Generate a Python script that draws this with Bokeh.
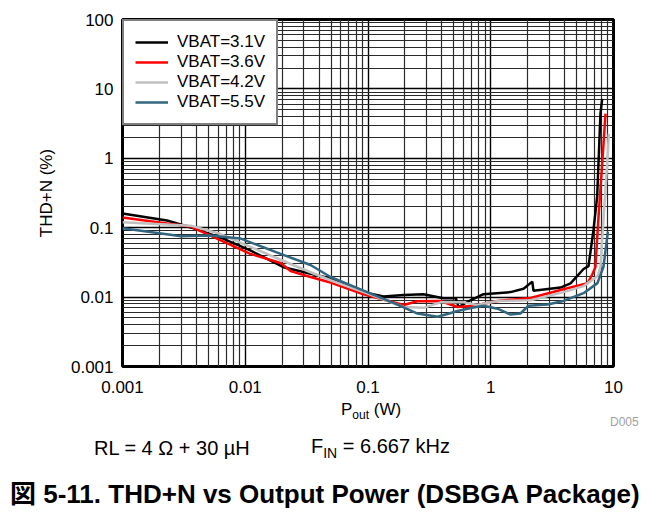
import numpy as np
from bokeh.plotting import figure
from bokeh.layouts import column
from bokeh.models import (FixedTicker, CustomJSTickFormatter, Legend,
                          LegendItem, Range1d, Div)
from bokeh.embed import file_html
from bokeh.resources import INLINE

# ---------------- data ----------------
series_names = ["VBAT=3.1V", "VBAT=3.6V", "VBAT=4.2V", "VBAT=5.5V"]
series_colors = ["#000000", "#ff0000", "#c0c0c0", "#32657f"]

pout_31 = [0.001, 0.0023, 0.0038, 0.0063, 0.011, 0.0205, 0.0495, 0.092, 0.134,
           0.195, 0.283, 0.41, 0.52, 0.546, 0.684, 0.873, 1.45, 1.85, 2.18,
           2.23, 3.7, 4.47, 5.7, 6.26, 6.87, 7.36, 7.83, 8.09]
thd_31 = [0.16, 0.127, 0.098, 0.072, 0.047, 0.027, 0.0185, 0.0118, 0.0102,
          0.0107, 0.011, 0.0096, 0.0096, 0.0072, 0.009, 0.011, 0.0118, 0.0132,
          0.0167, 0.0123, 0.0137, 0.0158, 0.0254, 0.028, 0.093, 0.28, 4.4, 7.2]

pout_36 = [0.001, 0.0023, 0.0036, 0.0052, 0.011, 0.0194, 0.0234, 0.034, 0.0495,
           0.092, 0.195, 0.253, 0.39, 0.536, 0.723, 1.135, 2.11, 3.91, 6.14,
           6.7, 7.12, 7.58, 8.09, 8.61]
thd_36 = [0.14, 0.115, 0.104, 0.077, 0.042, 0.031, 0.0237, 0.0195, 0.0162,
          0.011, 0.0077, 0.0087, 0.0088, 0.0072, 0.0075, 0.0088, 0.0097, 0.013,
          0.0158, 0.021, 0.027, 0.16, 0.83, 4.4]

pout_42 = [0.001, 0.0036, 0.0063, 0.011, 0.0234, 0.034, 0.0495, 0.092, 0.195,
           0.283, 0.39, 0.60, 0.78, 1.135, 2.11, 3.91, 5.7, 7.4, 7.83, 8.34,
           8.89, 9.16]
thd_42 = [0.12, 0.107, 0.081, 0.053, 0.030, 0.0228, 0.0175, 0.0118, 0.0072,
          0.007, 0.0084, 0.0084, 0.0077, 0.0088, 0.009, 0.0118, 0.0144, 0.02,
          0.027, 0.16, 0.83, 2.25]

pout_55 = [0.001, 0.00246, 0.003, 0.0052, 0.0091, 0.0194, 0.034, 0.0495, 0.092,
           0.174, 0.253, 0.368, 0.444, 0.536, 0.723, 0.873, 1.135, 1.448, 1.746,
           2.03, 2.9, 3.91, 5.7, 7.4, 8.29, 9.0]
thd_55 = [0.098, 0.079, 0.075, 0.077, 0.07, 0.042, 0.029, 0.0195, 0.0124,
          0.0078, 0.0058, 0.0052, 0.0057, 0.0063, 0.0071, 0.0075, 0.0068, 0.0056,
          0.0058, 0.0075, 0.0078, 0.0088, 0.0114, 0.0159, 0.0274, 0.088]

x_ticks = [0.001, 0.01, 0.1, 1, 10]
y_ticks = [0.001, 0.01, 0.1, 1, 10, 100]
x_minor = [k * 10.0 ** e for e in range(-3, 1) for k in range(2, 10)]
y_minor = [k * 10.0 ** e for e in range(-3, 2) for k in range(2, 10)]

y_title = "THD+N (%)"
x_title_html = "P<sub style='font-size:12px'>out</sub> (W)"
note_rl = "RL = 4 \u03a9 + 30 \u00b5H"
note_fin_html = "F<sub style='font-size:14px'>IN</sub> = 6.667 kHz"
tag = "D005"
caption = "\u56f3 5-11. THD+N vs Output Power (DSBGA Package)"

# ---------------- layout ----------------
W, H = 661, 400
BL, BR, BT, BB = 122, 48, 19, 34
FONT = "Liberation Sans"

p = figure(width=W, height=H, x_axis_type="log", y_axis_type="log",
           x_range=Range1d(0.001, 10), y_range=Range1d(0.001, 100),
           output_backend="svg", toolbar_location=None,
           min_border_left=BL, min_border_right=BR,
           min_border_top=BT, min_border_bottom=BB)
p.background_fill_color = "white"
p.border_fill_color = "white"
p.outline_line_color = "black"
p.outline_line_width = 3

xt = FixedTicker(ticks=x_ticks, minor_ticks=x_minor)
yt = FixedTicker(ticks=y_ticks, minor_ticks=y_minor)
p.xaxis.ticker = xt
p.yaxis.ticker = yt
p.xgrid.ticker = xt
p.ygrid.ticker = yt
fmt = CustomJSTickFormatter(code="return String(tick)")
p.xaxis.formatter = fmt
p.yaxis.formatter = fmt

for g in (p.xgrid, p.ygrid):
    g.grid_line_color = "#000000"
    g.grid_line_width = 1.4
    g.minor_grid_line_color = "#2a2a2a"
    g.minor_grid_line_width = 1.2

for ax in (p.xaxis, p.yaxis):
    ax.axis_line_color = None
    ax.major_tick_line_color = None
    ax.minor_tick_line_color = None
    ax.major_tick_out = 0
    ax.major_tick_in = 0
    ax.minor_tick_out = 0
    ax.minor_tick_in = 0
    ax.major_label_text_font = FONT
    ax.major_label_text_font_size = "17px"
    ax.major_label_text_color = "black"
p.xaxis.major_label_standoff = 14
p.yaxis.major_label_standoff = 9

p.yaxis.axis_label = y_title
p.yaxis.axis_label_text_font = FONT
p.yaxis.axis_label_text_font_size = "17px"
p.yaxis.axis_label_text_font_style = "normal"
p.yaxis.axis_label_text_color = "black"
p.yaxis.axis_label_standoff = 12

xs = [pout_31, pout_36, pout_42, pout_55]
ys = [thd_31, thd_36, thd_42, thd_55]
items = []
for name, col, x, y in zip(series_names, series_colors, xs, ys):
    r = p.line(x, y, line_color=col, line_width=2.5)
    items.append(LegendItem(label=name, renderers=[r]))

leg = Legend(items=items, location="top_left", margin=0, padding=11,
             spacing=0, label_height=20, glyph_height=20, glyph_width=33,
             label_standoff=9, border_line_color="black",
             border_line_width=2, background_fill_color="white",
             background_fill_alpha=1.0, label_text_font=FONT,
             label_text_font_size="17px", label_text_color="black")
p.add_layout(leg)

# ---------------- texts below the chart (HTML for subscripts) ----------------
DIV_H = 513 - H


def span(left, top, html, size, extra=""):
    return (f"<div style=\"position:absolute; left:{left}px; top:{top}px; "
            f"transform:translateY(-50%); white-space:nowrap; "
            f"font-family:'{FONT}','Noto Sans CJK JP'; font-size:{size}px; "
            f"line-height:1; color:black; {extra}\">{html}</div>")


html = "".join([
    span(336, 406 - H, x_title_html, 17),
    span(605, 417 - H, tag, 12, "color:#a0a0a0;"),
    span(89, 443 - H, note_rl, 20),
    span(306, 443 - H, note_fin_html, 20),
    span(5, 489 - H, caption, 26, "font-weight:bold;"),
])
notes = Div(text=html, width=W, height=DIV_H,
            styles={"position": "relative", "overflow": "visible"})

layout = column(p, notes, spacing=0)
open("out.html", "w").write(file_html(layout, INLINE))
